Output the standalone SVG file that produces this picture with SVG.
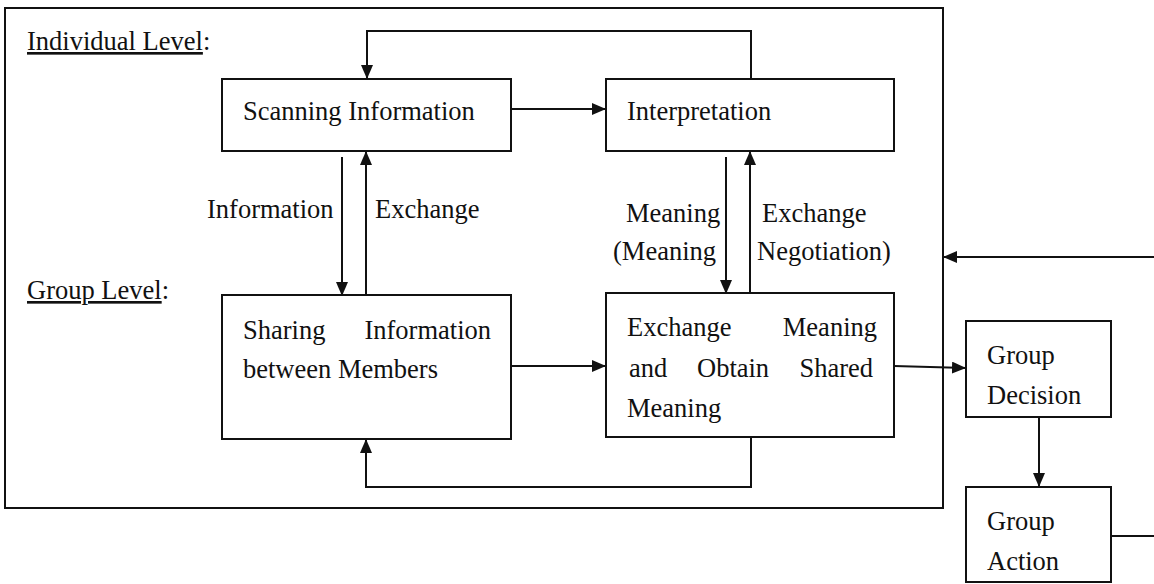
<svg xmlns="http://www.w3.org/2000/svg" width="1154" height="584" viewBox="0 0 1154 584">
<defs>
<style>
.box{fill:#fff;stroke:#111;stroke-width:2}
.ln{fill:none;stroke:#111;stroke-width:2}
.t{font-family:"Liberation Serif","Times New Roman",serif;font-size:26.5px;fill:#111}
.u{text-decoration:underline}
</style>
<marker id="ah" markerUnits="userSpaceOnUse" markerWidth="15" markerHeight="12" refX="14" refY="6" orient="auto">
<path d="M0,0 L14,6 L0,12 Z" fill="#111"/>
</marker>
</defs>
<rect width="1154" height="584" fill="#fff"/>
<g id="frame">
<rect x="5" y="8" width="938" height="500" class="box"/>
<text class="t" x="27" y="50"><tspan class="u">Individual Level</tspan>:</text>
<text class="t" x="27" y="299"><tspan class="u">Group Level</tspan>:</text>
</g>
<g id="connectors">
<path class="ln" d="M751,79 V31 H367 V79" marker-end="url(#ah)"/>
<path class="ln" d="M511,109 H606" marker-end="url(#ah)"/>
<path class="ln" d="M342,157 V296" marker-end="url(#ah)"/>
<path class="ln" d="M366,296 V151" marker-end="url(#ah)"/>
<path class="ln" d="M726,157 V294" marker-end="url(#ah)"/>
<path class="ln" d="M750,294 V151" marker-end="url(#ah)"/>
<path class="ln" d="M511,366 H606" marker-end="url(#ah)"/>
<path class="ln" d="M751,437 V487 H366 V439" marker-end="url(#ah)"/>
<path class="ln" d="M894,366 L966,368" marker-end="url(#ah)"/>
<path class="ln" d="M1154,257 H943" marker-end="url(#ah)"/>
<path class="ln" d="M1039,417 V487" marker-end="url(#ah)"/>
<path class="ln" d="M1110,536 H1154"/>
<text class="t" x="207" y="218">Information</text>
<text class="t" x="375" y="218">Exchange</text>
<text class="t" x="626" y="222">Meaning</text>
<text class="t" x="613" y="260">(Meaning</text>
<text class="t" x="762" y="222">Exchange</text>
<text class="t" x="757" y="260">Negotiation)</text>
</g>
<g id="scanning">
<rect x="222" y="79" width="289" height="72" class="box"/>
<text class="t" x="243" y="120">Scanning Information</text>
</g>
<g id="interpretation">
<rect x="606" y="79" width="288" height="72" class="box"/>
<text class="t" x="627" y="120">Interpretation</text>
</g>
<g id="sharing">
<rect x="222" y="295" width="289" height="144" class="box"/>
<text class="t" x="243" y="339">Sharing</text>
<text class="t" x="491" y="339" text-anchor="end">Information</text>
<text class="t" x="243" y="378">between Members</text>
</g>
<g id="exchange">
<rect x="606" y="293" width="288" height="144" class="box"/>
<text class="t" x="627" y="336">Exchange</text>
<text class="t" x="877" y="336" text-anchor="end">Meaning</text>
<text class="t" x="629" y="377">and</text>
<text class="t" x="697" y="377">Obtain</text>
<text class="t" x="873" y="377" text-anchor="end">Shared</text>
<text class="t" x="627" y="417">Meaning</text>
</g>
<g id="decision">
<rect x="966" y="321" width="145" height="96" class="box"/>
<text class="t" x="987" y="364">Group</text>
<text class="t" x="987" y="404">Decision</text>
</g>
<g id="action">
<rect x="966" y="487" width="145" height="95" class="box"/>
<text class="t" x="987" y="530">Group</text>
<text class="t" x="987" y="570">Action</text>
</g>
</svg>
